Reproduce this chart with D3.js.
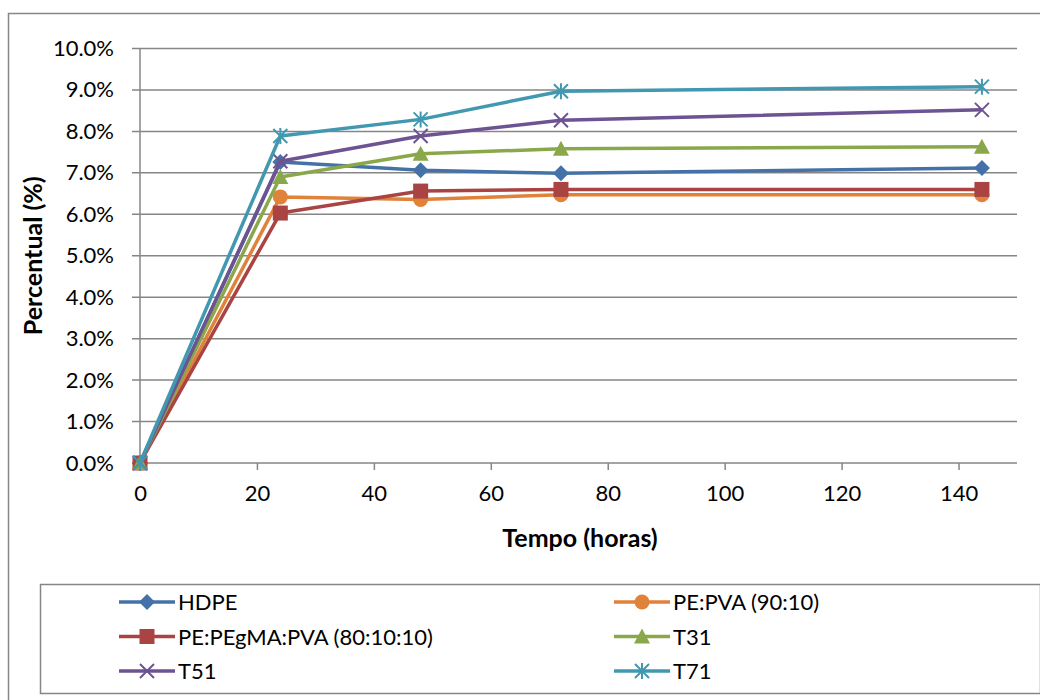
<!DOCTYPE html>
<html>
<head>
    <meta charset="utf-8" />
    <title>Percentual x Tempo</title>
    <style>
        body { margin: 0; background: #fff; }
        .tick text { font: 22px Lato, "Open Sans", sans-serif; fill: #000; }
        .axis-title { font: bold 25px Lato, "Open Sans", sans-serif; fill: #000; }
        .legend text { font: 22px Lato, "Open Sans", sans-serif; fill: #000; }
    </style>
    <script src="https://cdn.jsdelivr.net/npm/d3@7/dist/d3.min.js"></script>
</head>
<body>
    <svg width="1040" height="700"></svg>
    <script>
        // horas
        var tempo = [0, 24, 48, 72, 144];
        var seriesNames = ['HDPE', 'PE:PVA (90:10)', 'PE:PEgMA:PVA (80:10:10)', 'T31', 'T51', 'T71'];
        // valores em fração (0.07 = 7%)
        var hdpe   = [0, 0.0726, 0.0706, 0.0699, 0.0712];
        var pePva  = [0, 0.0642, 0.0636, 0.0647, 0.0647];
        var pegma  = [0, 0.0603, 0.0656, 0.0660, 0.0660];
        var t31    = [0, 0.0690, 0.0746, 0.0758, 0.0763];
        var t51    = [0, 0.0728, 0.0789, 0.0827, 0.0852];
        var t71    = [0, 0.0789, 0.0829, 0.0897, 0.0908];
        var xTicks = [0, 20, 40, 60, 80, 100, 120, 140];
        var yTicks = [0, 0.01, 0.02, 0.03, 0.04, 0.05, 0.06, 0.07, 0.08, 0.09, 0.10];

        var colors = ['#4472a8', '#e0823a', '#a94442', '#8aa84a', '#6d5392', '#4198b0'];
        var shapes = ['diamond', 'circle', 'square', 'triangle', 'cross', 'star'];
        var values = [hdpe, pePva, pegma, t31, t51, t71];

        var svg = d3.select('svg');
        var margin = { left: 140, top: 48.5, right: 1017, bottom: 463 };

        // moldura externa
        svg.append('rect')
            .attr('x', 8.5).attr('y', 13.5)
            .attr('width', 1040).attr('height', 700)
            .attr('fill', 'none').attr('stroke', '#868686').attr('stroke-width', 1.5);

        var x = d3.scaleLinear().domain([0, 150]).range([margin.left, margin.right]);
        var y = d3.scaleLinear().domain([0, 0.10]).range([margin.bottom, margin.top]);

        // grade
        svg.append('g').selectAll('line')
            .data(yTicks).enter().append('line')
            .attr('x1', margin.left - 8).attr('x2', margin.right)
            .attr('y1', function(d) { return y(d); })
            .attr('y2', function(d) { return y(d); })
            .attr('stroke', '#868686').attr('stroke-width', 1.5);

        var yAxis = svg.append('g')
            .attr('transform', 'translate(' + (margin.left - 8) + ',0)')
            .call(d3.axisLeft(y).tickValues(yTicks).tickSize(0).tickPadding(18)
                .tickFormat(d3.format('.1%')));
        yAxis.select('.domain').remove();

        var xAxis = svg.append('g')
            .attr('transform', 'translate(0,' + margin.bottom + ')')
            .call(d3.axisBottom(x).tickValues(xTicks).tickSizeInner(7).tickSizeOuter(0).tickPadding(15));
        xAxis.select('.domain').remove();
        xAxis.selectAll('.tick line').attr('stroke', '#868686').attr('stroke-width', 1.5);

        svg.append('line')
            .attr('x1', margin.left).attr('x2', margin.left)
            .attr('y1', margin.top).attr('y2', margin.bottom)
            .attr('stroke', '#868686').attr('stroke-width', 1.5);

        svg.append('text').attr('class', 'axis-title')
            .attr('x', 580).attr('y', 547).attr('text-anchor', 'middle')
            .text('Tempo (horas)');
        svg.append('text').attr('class', 'axis-title')
            .attr('transform', 'translate(42,' + ((margin.top + margin.bottom) / 2) + ') rotate(-90)')
            .attr('text-anchor', 'middle')
            .text('Percentual (%)');

        function marker(g, shape, color) {
            if (shape === 'diamond') {
                g.append('path').attr('d', 'M0,-8L8,0L0,8L-8,0Z').attr('fill', color);
            } else if (shape === 'circle') {
                g.append('circle').attr('r', 7.5).attr('fill', color);
            } else if (shape === 'square') {
                g.append('rect').attr('x', -7.5).attr('y', -7.5).attr('width', 15).attr('height', 15).attr('fill', color);
            } else if (shape === 'triangle') {
                g.append('path').attr('d', 'M0,-8L8,7L-8,7Z').attr('fill', color);
            } else if (shape === 'cross') {
                g.append('path').attr('d', 'M-7,-7L7,7M-7,7L7,-7')
                    .attr('stroke', color).attr('stroke-width', 2).attr('fill', 'none');
            } else {
                g.append('path').attr('d', 'M-7,-7L7,7M-7,7L7,-7M0,-8L0,8')
                    .attr('stroke', color).attr('stroke-width', 2).attr('fill', 'none');
            }
        }

        var line = d3.line()
            .x(function(d, i) { return x(tempo[i]); })
            .y(function(d) { return y(d); });

        values.forEach(function(vals, s) {
            svg.append('path')
                .datum(vals)
                .attr('d', line)
                .attr('fill', 'none')
                .attr('stroke', colors[s])
                .attr('stroke-width', 3.5)
                .attr('stroke-linejoin', 'round');
            vals.forEach(function(v, i) {
                var g = svg.append('g').attr('transform', 'translate(' + x(tempo[i]) + ',' + y(v) + ')');
                marker(g, shapes[s], colors[s]);
            });
        });

        // legenda
        svg.append('rect')
            .attr('x', 40.5).attr('y', 584.5).attr('width', 1000).attr('height', 109)
            .attr('fill', 'none').attr('stroke', '#868686').attr('stroke-width', 1.5);

        var legend = svg.append('g').attr('class', 'legend');
        seriesNames.forEach(function(name, s) {
            var col = s % 2, row = Math.floor(s / 2);
            var lx = col === 0 ? 119 : 614;
            var ly = 602 + row * 34.5;
            var g = legend.append('g').attr('transform', 'translate(' + lx + ',' + ly + ')');
            g.append('line').attr('x1', 0).attr('x2', 56).attr('y1', 0).attr('y2', 0)
                .attr('stroke', colors[s]).attr('stroke-width', 3.5);
            marker(g.append('g').attr('transform', 'translate(28,0)'), shapes[s], colors[s]);
            g.append('text').attr('x', 59).attr('y', 8).text(name);
        });
    </script>
</body>
</html>
